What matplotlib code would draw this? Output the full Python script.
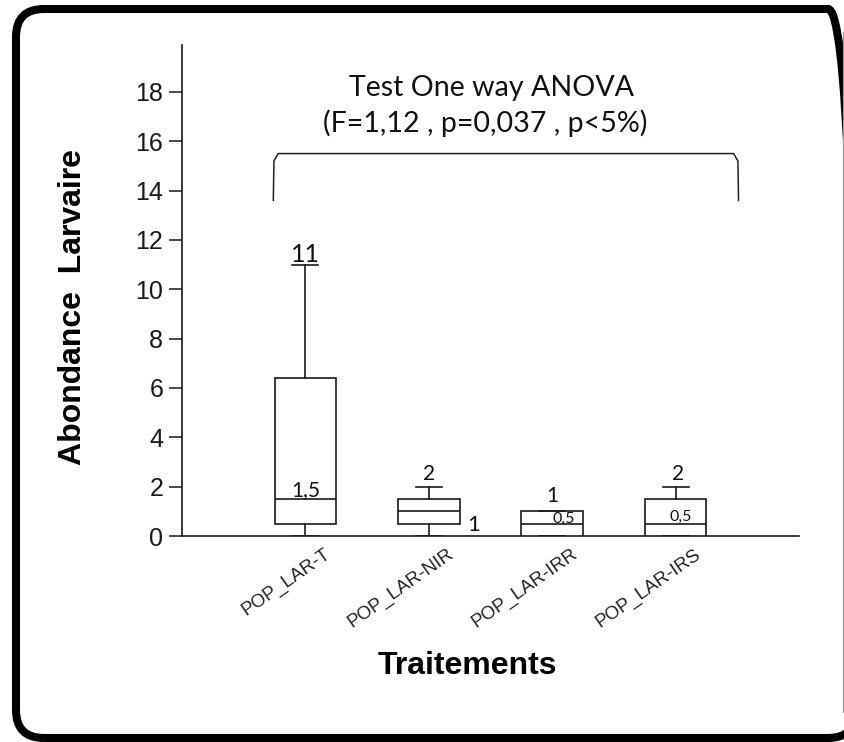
import matplotlib
matplotlib.use('Agg')
import matplotlib.pyplot as plt
from matplotlib.patches import FancyBboxPatch
from matplotlib.lines import Line2D
from matplotlib.transforms import ScaledTranslation

# ---------------- data ----------------
categories = ['POP_LAR-T', 'POP_LAR-NIR', 'POP_LAR-IRR', 'POP_LAR-IRS']
q1 = [0.5, 0.5, 0.0, 0.0]
medians = [1.5, 1.0, 0.5, 0.5]
q3 = [6.4, 1.5, 1.0, 1.5]
whisker_low = [0.0, 0.0, 0.0, 0.0]
whisker_high = [11.0, 2.0, 1.0, 2.0]
y_ticks = [0, 2, 4, 6, 8, 10, 12, 14, 16, 18]

annot_texts = ['11', '1,5', '2', '1', '1', '0,5', '2', '0,5']
annot_cat = [0, 0, 1, 1, 2, 2, 3, 3]
annot_values = [11.0, 1.5, 2.0, 1.0, 1.0, 0.5, 2.0, 0.5]

anova_title = 'Test One way ANOVA'
anova_stats = '(F=1,12 , p=0,037 , p<5%)'

# ---------------- layout / style ----------------
positions = [i + 1 for i in range(len(categories))]
annot_dx = [0.0, 0.0, 0.0, 0.36, 0.0, 0.09, 0.02, 0.04]
annot_dy = [0.12, 0.12, 0.27, -0.8, 0.38, 0.02, 0.27, 0.1]
annot_size = [18, 15, 15, 16, 15, 11.5, 15, 11.5]

LINE = '#1a1a1a'
ANNOT_FONT = 'Lato'

fig = plt.figure(figsize=(8.44, 7.42), dpi=100)
ax = fig.add_axes([182 / 844, (742 - 536) / 742, 617 / 844, 491 / 742])

stats = []
for lab, a, m, b, lo, hi in zip(categories, q1, medians, q3, whisker_low, whisker_high):
    stats.append(dict(label=lab, q1=a, med=m, q3=b, whislo=lo, whishi=hi, fliers=[]))

ax.bxp(stats, positions=positions, widths=0.5, showfliers=False, patch_artist=True,
       boxprops=dict(facecolor='white', edgecolor=LINE, linewidth=1.2),
       medianprops=dict(color=LINE, linewidth=1.2),
       whiskerprops=dict(color=LINE, linewidth=1.2),
       capprops=dict(color=LINE, linewidth=1.2),
       capwidths=0.21, zorder=3)

ax.set_xlim(0, 5)
ax.set_ylim(0, 19.9)
ax.set_yticks(y_ticks)
ax.set_yticklabels([str(t) for t in y_ticks], fontsize=18, family='Liberation Sans', color='#1a1a1a')
ax.tick_params(axis='y', direction='out', length=9.5, width=1.1, pad=4, color=LINE)
ax.tick_params(axis='x', length=0)
ax.set_xticks(positions)
ax.set_xticklabels([])
for sp in ['top', 'right']:
    ax.spines[sp].set_visible(False)
for sp in ['left', 'bottom']:
    ax.spines[sp].set_linewidth(1.2)
    ax.spines[sp].set_color(LINE)

# rotated category labels
xt = ax.get_xaxis_transform()
for p, lab in zip(positions, categories):
    tr = xt + ScaledTranslation(0.26, -0.20, fig.dpi_scale_trans)
    ax.text(p, 0, lab, transform=tr, rotation=35, rotation_mode='anchor',
            ha='right', va='baseline', fontsize=13.5, family='Liberation Sans',
            color='#222', clip_on=False)

# value annotations
for t, c, v, dx, dy, s in zip(annot_texts, annot_cat, annot_values, annot_dx, annot_dy, annot_size):
    ax.text(positions[c] + dx, v + dy, t, ha='center', va='baseline', fontsize=s,
            family=ANNOT_FONT, color='#111', zorder=5)

# bracket
bx0, bx1, by0, by1 = 0.74, 4.51, 13.6, 15.5
ax.plot([bx0, bx0 + 0.005, bx0 + 0.04, bx1 - 0.04, bx1 - 0.005, bx1],
        [by0, by1 - 0.3, by1, by1, by1 - 0.3, by0],
        color='#222', linewidth=1.1, clip_on=False)

ax.text(2.51, 18.15, anova_title, ha='center', va='center', fontsize=20.6,
        family=ANNOT_FONT, color='#111')
ax.text(2.46, 16.75, anova_stats, ha='center', va='center', fontsize=20.6,
        family=ANNOT_FONT, color='#111')

ax.set_ylabel('Abondance  Larvaire', fontsize=23, fontweight='bold', family='Liberation Sans')
ax.yaxis.set_label_coords(-0.152, 0.466)
ax.set_xlabel('Traitements', fontsize=23, fontweight='bold', family='Liberation Sans')
ax.xaxis.set_label_coords(0.462, -0.234)

# outer rounded frame (right edge runs off the picture)
frame = FancyBboxPatch((0.16, 0.04), 8.40, 7.29, boxstyle='round,pad=0,rounding_size=0.28',
                       transform=fig.dpi_scale_trans, facecolor='none', edgecolor='black',
                       linewidth=5.8, clip_on=False)
fig.patches.append(frame)
fig.add_artist(Line2D([8.425, 8.425], [0.3, 7.1], transform=fig.dpi_scale_trans,
                      color='#9a9a9a', linewidth=0.8))

fig.savefig('out.png', dpi=100)
